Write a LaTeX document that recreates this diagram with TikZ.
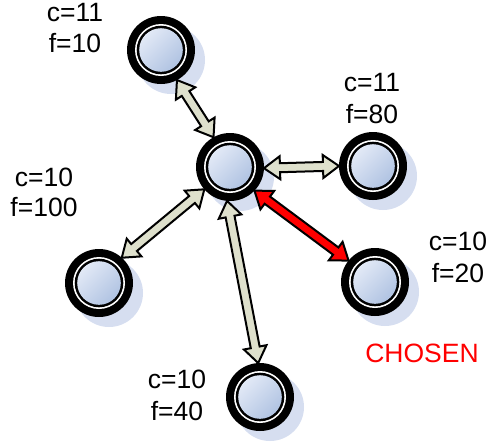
\documentclass[tikz,border=0pt]{standalone}
\usepackage{fontspec}
\setmainfont{Liberation Sans}
\usetikzlibrary{calc}
\definecolor{shadowblue}{RGB}{214,222,240}
\definecolor{fillA}{RGB}{226,233,246}
\definecolor{fillB}{RGB}{176,195,226}
\definecolor{arrowfill}{RGB}{222,224,204}
\tikzset{
  statenode/.style={circle, minimum size=68pt, inner sep=0pt, outer sep=0pt, fill=black,
    preaction={fill=shadowblue, transform canvas={xshift=10pt,yshift=-10pt}},
    path picture={
      \fill[white] (path picture bounding box.center) circle (26pt);
      \fill[black] (path picture bounding box.center) circle (24.3pt);
      \shade[top color=fillA, bottom color=fillB, shading angle=45] (path picture bounding box.center) circle (21.8pt);
    }},
  lbl/.style={font=\fontsize{26.5}{32}\selectfont, anchor=base, inner sep=0pt},
  blk/.style={fill=arrowfill, draw=black, line width=2pt, line join=miter},
  blkred/.style={fill=red, draw=black, line width=2pt, line join=miter},
}
\newcommand{\dblarrow}[3]{%
  \coordinate (tA) at (#2);
  \coordinate (tB) at (#3);
  \draw[#1] (tA)
    -- ($(tA)!16pt!(tB)!11.5pt!90:(tB)$)
    -- ($(tA)!16pt!(tB)!4.5pt!90:(tB)$)
    -- ($(tB)!16pt!(tA)!4.5pt!-90:(tA)$)
    -- ($(tB)!16pt!(tA)!11.5pt!-90:(tA)$)
    -- (tB)
    -- ($(tB)!16pt!(tA)!11.5pt!90:(tA)$)
    -- ($(tB)!16pt!(tA)!4.5pt!90:(tA)$)
    -- ($(tA)!16pt!(tB)!4.5pt!-90:(tB)$)
    -- ($(tA)!16pt!(tB)!11.5pt!-90:(tB)$)
    -- cycle;
}
\begin{document}
\begin{tikzpicture}[x=1pt, y=-1pt]
  \useasboundingbox (0,0) rectangle (489,445);

  % nodes
  \node[statenode] (t)  at (161,50)  {};
  \node[statenode] (c)  at (230,167) {};
  \node[statenode] (rt) at (373,166) {};
  \node[statenode] (r)  at (375,282) {};
  \node[statenode] (l)  at (99,283)  {};
  \node[statenode] (b)  at (260,397) {};

  % connectors
  \dblarrow{blk}{t.-62}{c.119}
  \dblarrow{blk}{c.-2}{rt.180}
  \dblarrow{blk}{c.-139}{l.48}
  \dblarrow{blk}{c.-95}{b.93}
  \dblarrow{blkred}{c.-44}{r.141}

  % labels
  \node[lbl] (t1) at (75,21)  {c=11};
  \node[lbl] (t2) at (75,52)  {f=10};
  \node[lbl] (rt1) at (372,91)  {c=11};
  \node[lbl] (rt2) at (372,123) {f=80};
  \node[lbl] (l1) at (44,186) {c=10};
  \node[lbl] (l2) at (44,216) {f=100};
  \node[lbl] (r1) at (458,250) {c=10};
  \node[lbl] (r2) at (458,282) {f=20};
  \node[lbl, text=red] (ch) at (422,362) {CHOSEN};
  \node[lbl] (b1) at (177,388) {c=10};
  \node[lbl] (b2) at (177,420) {f=40};
\end{tikzpicture}
\end{document}
